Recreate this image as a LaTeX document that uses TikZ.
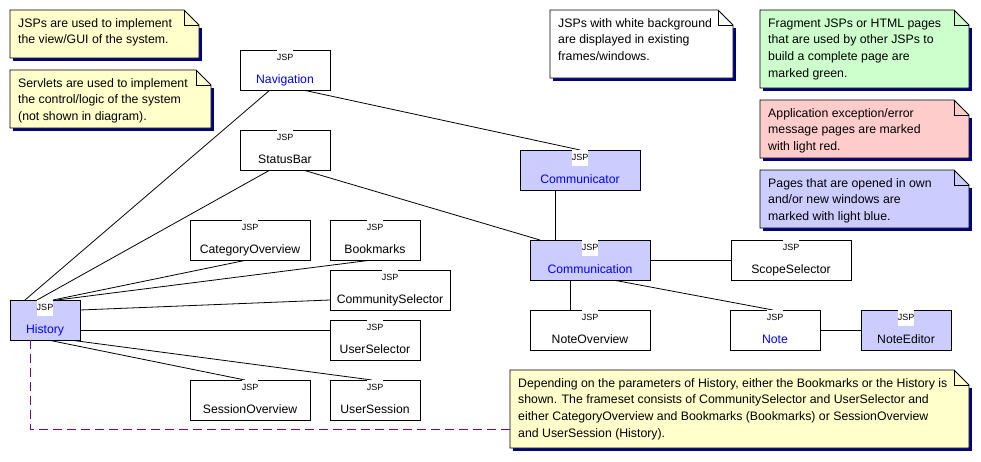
\documentclass[tikz,border=0pt]{standalone}
\usepackage{fontspec}
\setmainfont{Liberation Sans}
\usetikzlibrary{calc}
\definecolor{lblue}{HTML}{CCCCFF}
\definecolor{nyellow}{HTML}{FFFFCC}
\definecolor{ngreen}{HTML}{CCFFCC}
\definecolor{nred}{HTML}{FFCCCC}
\definecolor{shadowc}{HTML}{000080}
\definecolor{jblue}{HTML}{0000FF}
\definecolor{dpurple}{HTML}{800080}
\pgfdeclarelayer{bg}
\pgfsetlayers{bg,main}
\newcommand{\notefont}{\fontsize{12.3}{16.8}\selectfont}
\newcommand{\jspnode}[7]{%
  \node[jspbox, minimum width=#4, fill=#5] (#1) at (#2,#3) {};
  \node[jsptag] (#1-tag) at ($(#1.north)+(0,-0.5)$) {JSP};
  \node[lbl, text=#6] (#1-lbl) at ($(#1.north)+(0,33)$) {#7};
}
\newcommand{\notebox}[7]{%
  \node[inner sep=0pt, outer sep=0pt, minimum width=#4, minimum height=#5, anchor=north west] (#1) at (#2,#3) {};
  \fill[shadowc] ($(#1.north east)+(3,18)$) rectangle ($(#1.south west)+(3,3)$);
  \filldraw[fill=#6, draw=black, line width=0.9pt] (#1.north west) -- ($(#1.north east)+(-15,0)$) -- ($(#1.north east)+(0,15)$) -- (#1.south east) -- (#1.south west) -- cycle;
  \draw[line width=0.9pt] ($(#1.north east)+(-15,0)$) |- ($(#1.north east)+(0,15)$);
  \node[anchor=base west, inner sep=0pt, font=\notefont] (#1-text) at ($(#1.north west)+(8,17)$) {\vtop{\baselineskip=16.8pt #7}};
}
\begin{document}
\begin{tikzpicture}[x=1pt,y=-1pt,
  jspbox/.style={draw=black, line width=0.9pt, inner sep=0pt, outer sep=0pt, minimum height=40pt},
  jsptag/.style={fill=white, inner sep=0pt, minimum width=16pt, minimum height=16pt, anchor=north, font=\fontsize{9}{10}\selectfont},
  lbl/.style={anchor=base, inner sep=0pt, font=\fontsize{12.2}{14}\selectfont},
  conn/.style={draw=black, line width=0.8pt},
  dashline/.style={draw=dpurple, line width=0.9pt, dash pattern=on 9pt off 5pt}
]
\useasboundingbox (0,0) rectangle (981,461);
\begin{pgfonlayer}{bg}
\fill[white] (0,0) rectangle (981,461);
\end{pgfonlayer}

% JSP nodes
\jspnode{nav}{285}{70}{90}{white}{jblue}{Navigation}
\jspnode{status}{285}{150}{90}{white}{black}{StatusBar}
\jspnode{commr}{580}{170}{120}{lblue}{jblue}{Communicator}
\jspnode{commn}{590}{260}{120}{lblue}{jblue}{Communication}
\jspnode{scope}{791}{260}{120}{white}{black}{ScopeSelector}
\jspnode{noteov}{590}{330}{120}{white}{black}{NoteOverview}
\jspnode{note}{775}{330}{90}{white}{jblue}{Note}
\jspnode{noteed}{906}{330}{90}{lblue}{black}{NoteEditor}
\jspnode{hist}{45}{320}{70}{lblue}{jblue}{History}
\jspnode{catov}{250}{240}{120}{white}{black}{CategoryOverview}
\jspnode{bookm}{375}{240}{90}{white}{black}{Bookmarks}
\jspnode{commsel}{390}{290}{120}{white}{black}{CommunitySelector}
\jspnode{usersel}{375}{340}{90}{white}{black}{UserSelector}
\jspnode{sessov}{250}{400}{120}{white}{black}{SessionOverview}
\jspnode{usersess}{375}{400}{90}{white}{black}{UserSession}

% notes
\notebox{n1}{10}{10}{189}{48}{nyellow}{\hbox{JSPs are used to implement}\hbox{the view/GUI of the system.}}
\notebox{n2}{10}{70}{201}{58}{nyellow}{\hbox{Servlets are used to implement}\hbox{the control/logic of the system}\hbox{(not shown in diagram).}}
\notebox{n3}{550}{10}{183}{68}{white}{\hbox{JSPs with white background}\hbox{are displayed in existing}\hbox{frames/windows.}}
\notebox{n4}{760}{10}{209}{78}{ngreen}{\hbox{Fragment JSPs or HTML pages}\hbox{that are used by other JSPs to}\hbox{build a complete page are}\hbox{marked green.}}
\notebox{n5}{760}{100}{209}{58}{nred}{\hbox{Application exception/error}\hbox{message pages are marked}\hbox{with light red.}}
\notebox{n6}{760}{170}{209}{58}{lblue}{\hbox{Pages that are opened in own}\hbox{and/or new windows are}\hbox{marked with light blue.}}
\notebox{n7}{510}{370}{459}{78}{nyellow}{\hbox{Depending on the parameters of History, either the Bookmarks or the History is}\hbox{shown. The frameset consists of CommunitySelector and UserSelector and}\hbox{either CategoryOverview and Bookmarks (Bookmarks) or SessionOverview}\hbox{and UserSession (History).}}

% connectors
\begin{pgfonlayer}{bg}
\draw[conn] ($(nav.south west)+(30,0)$) -- ($(hist.north west)+(15,0)$);
\draw[conn] ($(status.south west)+(30,0)$) -- ($(hist.north west)+(27,0)$);
\draw[conn] ($(catov.south west)+(57,0)$) -- ($(hist.north west)+(43,0)$);
\draw[conn] ($(bookm.south west)+(42,0)$) -- ($(hist.north west)+(47,0)$);
\draw[conn] ($(commsel.south west)+(0,-10)$) -- ($(hist.east)+(0,-10)$);
\draw[conn] ($(usersel.north west)+(0,10)$) -- ($(hist.south east)+(0,-10)$);
\draw[conn] ($(sessov.north west)+(55,0)$) -- ($(hist.south west)+(38,0)$);
\draw[conn] ($(usersess.north west)+(42,0)$) -- ($(hist.south west)+(60,0)$);
\draw[conn] ($(nav.south west)+(63,0)$) -- (commr.north);
\draw[conn] ($(status.south west)+(63,0)$) -- ($(commn.north west)+(10,0)$);
\draw[conn] ($(commr.south west)+(35,0)$) -- ($(commn.north west)+(25,0)$);
\draw[conn] (commn.east) -- (scope.west);
\draw[conn] ($(commn.south west)+(40,0)$) -- ($(noteov.north west)+(40,0)$);
\draw[conn] ($(commn.south west)+(83,0)$) -- ($(note.north west)+(43,0)$);
\draw[conn] (note.east) -- (noteed.west);
\end{pgfonlayer}
\draw[dashline] ($(hist.south west)+(20,0)$) |- ($(n7.north west)+(0,59)$);
\end{tikzpicture}
\end{document}
